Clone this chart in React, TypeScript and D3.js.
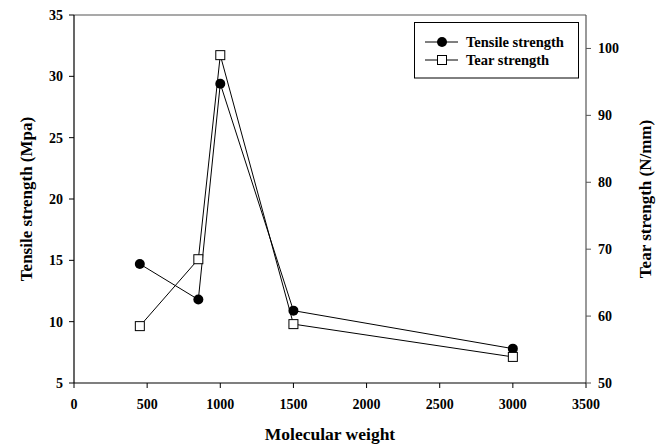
import React from "react";
import * as d3 from "d3";

const molecularWeight = [450, 850, 1000, 1500, 3000];
const tensileStrength = [14.7, 11.8, 29.4, 10.9, 7.8];
const tearStrength = [58.5, 68.5, 99.0, 58.8, 53.9];
const xTicks = [0, 500, 1000, 1500, 2000, 2500, 3000, 3500];
const leftTicks = [5, 10, 15, 20, 25, 30, 35];
const rightTicks = [50, 60, 70, 80, 90, 100];
const seriesNames = ["Tensile strength", "Tear strength"];

const W = 667, H = 448;
const L = 74, R = 586, T = 15, B = 383;
const font = "'Liberation Serif', 'Times New Roman', serif";

export default function App() {
  const x = d3.scaleLinear().domain([0, 3500]).range([L, R]);
  const yL = d3.scaleLinear().domain([5, 35]).range([B, T]);
  const yR = d3.scaleLinear().domain([50, 105]).range([B, T]);
  const lineT = d3.line<number>().x((_, i) => x(molecularWeight[i])).y((d) => yL(d));
  const lineR = d3.line<number>().x((_, i) => x(molecularWeight[i])).y((d) => yR(d));
  const sq = 9;
  return (
    <svg width={W} height={H} style={{ position: "absolute", left: 0, top: 0, background: "#fff" }} fontFamily={font} fontWeight="bold">
      <rect x={0} y={0} width={W} height={H} fill="#fff" />
      {/* frame */}
      <line x1={L} y1={T} x2={R} y2={T} stroke="#555" strokeWidth={1.2} />
      <line x1={R} y1={T} x2={R} y2={B} stroke="#555" strokeWidth={1.2} />
      <line x1={L} y1={T} x2={L} y2={B} stroke="#000" strokeWidth={1.2} />
      <line x1={L} y1={B} x2={R} y2={B} stroke="#000" strokeWidth={1.2} />
      {xTicks.map((t) => (
        <g key={"x" + t}>
          <line x1={x(t)} x2={x(t)} y1={B} y2={B + 5} stroke="#000" />
          <text x={x(t)} y={B + 26} textAnchor="middle" fontSize={14}>{t}</text>
        </g>
      ))}
      {leftTicks.map((t) => (
        <g key={"l" + t}>
          <line x1={L - 5} x2={L} y1={yL(t)} y2={yL(t)} stroke="#000" />
          <text x={L - 11} y={yL(t) + 5} textAnchor="end" fontSize={14}>{t}</text>
        </g>
      ))}
      {rightTicks.map((t) => (
        <g key={"r" + t}>
          <line x1={R} x2={R + 5} y1={yR(t)} y2={yR(t)} stroke="#555" />
          <text x={R + 12} y={yR(t) + 5} textAnchor="start" fontSize={14}>{t}</text>
        </g>
      ))}
      <text x={(L + R) / 2} y={440} textAnchor="middle" fontSize={17.5}>Molecular weight</text>
      <text transform={`translate(32,${(T + B) / 2}) rotate(-90)`} textAnchor="middle" fontSize={17}>Tensile strength (Mpa)</text>
      <text transform={`translate(651,${(T + B) / 2}) rotate(-90)`} textAnchor="middle" fontSize={17}>Tear strength (N/mm)</text>
      {/* series */}
      <path d={lineT(tensileStrength) || ""} fill="none" stroke="#000" strokeWidth={1} />
      <path d={lineR(tearStrength) || ""} fill="none" stroke="#000" strokeWidth={1} />
      {tensileStrength.map((v, i) => (
        <circle key={"c" + i} cx={x(molecularWeight[i])} cy={yL(v)} r={5} fill="#000" />
      ))}
      {tearStrength.map((v, i) => (
        <rect key={"s" + i} x={x(molecularWeight[i]) - sq / 2} y={yR(v) - sq / 2} width={sq} height={sq} fill="#fff" stroke="#000" strokeWidth={1} />
      ))}
      {/* legend */}
      <rect x={414.5} y={22.5} width={164} height={55.5} fill="#fff" stroke="#000" strokeWidth={1} />
      <line x1={425} x2={458} y1={42} y2={42} stroke="#000" />
      <circle cx={442} cy={42} r={5} fill="#000" />
      <text x={466} y={47} fontSize={14.5}>{seriesNames[0]}</text>
      <line x1={425} x2={458} y1={60} y2={60} stroke="#000" />
      <rect x={442 - sq / 2} y={60 - sq / 2} width={sq} height={sq} fill="#fff" stroke="#000" />
      <text x={466} y={65} fontSize={14.5}>{seriesNames[1]}</text>
    </svg>
  );
}
